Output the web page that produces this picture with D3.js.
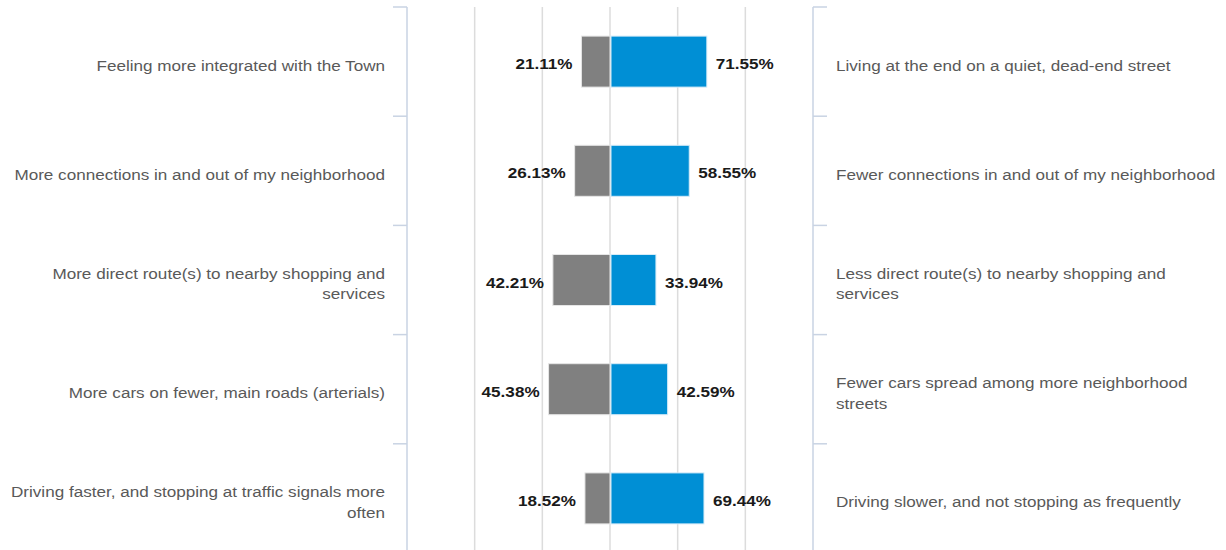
<!DOCTYPE html>
<html>
<head>
<meta charset="utf-8">
<script src="https://cdn.jsdelivr.net/npm/d3@7"></script>
<style>
  body { margin: 0; background: #fff; }
  text { font-family: "Liberation Sans", Arial, sans-serif; }
</style>
</head>
<body>
<svg id="chart" width="1226" height="550"></svg>
<script>
// left side statements (gray) and right side statements (blue)
let leftLabels = [
  "Feeling more integrated with the Town",
  "More connections in and out of my neighborhood",
  "More direct route(s) to nearby shopping and services",
  "More cars on fewer, main roads (arterials)",
  "Driving faster, and stopping at traffic signals more often"
]
let rightLabels = [
  "Living at the end on a quiet, dead-end street",
  "Fewer connections in and out of my neighborhood",
  "Less direct route(s) to nearby shopping and services",
  "Fewer cars spread among more neighborhood streets",
  "Driving slower, and not stopping as frequently"
]
let leftValues = [21.11, 26.13, 42.21, 45.38, 18.52]
let rightValues = [71.55, 58.55, 33.94, 42.59, 69.44]
let gridTicks = [-150, -100, -50, 0, 50, 100, 150]

let svg = d3.select("#chart")

let x = d3.scaleLinear().domain([-150, 150]).range([407, 813])
let y = d3.scaleBand().domain(d3.range(leftLabels.length)).range([7, 553])

let barH = 51
let stretch = 1.14 // the text in the original is a bit wide

// grid
svg.append("g")
  .selectAll("line")
  .data(gridTicks.slice(1, -1))
  .enter()
  .append("line")
  .attr("x1", d => x(d)).attr("x2", d => x(d))
  .attr("y1", 7).attr("y2", 550)
  .attr("stroke", "#dcdcdc")
  .attr("stroke-width", 1.5)

// left and right category axes
let axisColor = "#c9d3e3"
let leftAxis = svg.append("g").attr("transform", "translate(" + x(-150) + ",0)")
let rightAxis = svg.append("g").attr("transform", "translate(" + x(150) + ",0)")

;[leftAxis, rightAxis].forEach(function (ax) {
  ax.append("line")
    .attr("y1", 7).attr("y2", 550)
    .attr("stroke", axisColor).attr("stroke-width", 1.5)
})
let bounds = y.domain().map(d => y(d))
leftAxis.selectAll(".bt").data(bounds).enter().append("line")
  .attr("x1", -14).attr("x2", 0)
  .attr("y1", d => d).attr("y2", d => d)
  .attr("stroke", axisColor).attr("stroke-width", 1.5)
rightAxis.selectAll(".bt").data(bounds).enter().append("line")
  .attr("x1", 0).attr("x2", 14)
  .attr("y1", d => d).attr("y2", d => d)
  .attr("stroke", axisColor).attr("stroke-width", 1.5)

let mid = i => y(i) + y.bandwidth() / 2

// bars
svg.append("g").selectAll("rect")
  .data(leftValues)
  .enter()
  .append("rect")
  .attr("x", d => x(-d))
  .attr("y", (d, i) => mid(i) - barH / 2)
  .attr("width", d => x(0) - x(-d))
  .attr("height", barH)
  .attr("fill", "#808080")
  .attr("stroke", "#e6e6e6")
  .attr("stroke-width", 1)

svg.append("g").selectAll("rect")
  .data(rightValues)
  .enter()
  .append("rect")
  .attr("x", x(0) + 1)
  .attr("y", (d, i) => mid(i) - barH / 2)
  .attr("width", d => x(d) - x(0) - 1)
  .attr("height", barH)
  .attr("fill", "#008fd5")
  .attr("stroke", "#d6ecf8")
  .attr("stroke-width", 1)

// value labels
svg.append("g").selectAll("text")
  .data(leftValues)
  .enter()
  .append("text")
  .attr("transform", (d, i) => "translate(" + (x(-d) - 9) + "," + mid(i) + ") scale(" + stretch + ",1)")
  .attr("dy", "0.5em")
  .attr("text-anchor", "end")
  .style("font-size", "15px")
  .style("font-weight", "bold")
  .attr("fill", "#1a1a1a")
  .text(d => d.toFixed(2) + "%")

svg.append("g").selectAll("text")
  .data(rightValues)
  .enter()
  .append("text")
  .attr("transform", (d, i) => "translate(" + (x(d) + 9) + "," + mid(i) + ") scale(" + stretch + ",1)")
  .attr("dy", "0.5em")
  .style("font-size", "15px")
  .style("font-weight", "bold")
  .attr("fill", "#1a1a1a")
  .text(d => d.toFixed(2) + "%")

// category labels, wrapped
function wrapLabel(sel, maxW) {
  sel.each(function (d, i) {
    let t = d3.select(this)
    let words = d.split(" ")
    let lines = [], line = []
    let tmp = t.append("tspan")
    words.forEach(function (w) {
      line.push(w)
      tmp.text(line.join(" "))
      if (tmp.node().getComputedTextLength() > maxW && line.length > 1) {
        line.pop()
        lines.push(line.join(" "))
        line = [w]
      }
    })
    lines.push(line.join(" "))
    tmp.remove()
    let lh = 21
    let y0 = -(lines.length - 1) * lh / 2
    lines.forEach(function (l, k) {
      t.append("tspan")
        .attr("x", 0)
        .attr("y", y0 + k * lh)
        .attr("dy", "0.6em")
        .text(l)
    })
  })
}

svg.append("g").selectAll("text")
  .data(leftLabels)
  .enter()
  .append("text")
  .attr("transform", (d, i) => "translate(385," + mid(i) + ") scale(" + stretch + ",1)")
  .attr("text-anchor", "end")
  .style("font-size", "15px")
  .attr("fill", "#595959")
  .call(wrapLabel, 340)

svg.append("g").selectAll("text")
  .data(rightLabels)
  .enter()
  .append("text")
  .attr("transform", (d, i) => "translate(836," + mid(i) + ") scale(" + stretch + ",1)")
  .style("font-size", "15px")
  .attr("fill", "#595959")
  .call(wrapLabel, 340)
</script>
</body>
</html>
